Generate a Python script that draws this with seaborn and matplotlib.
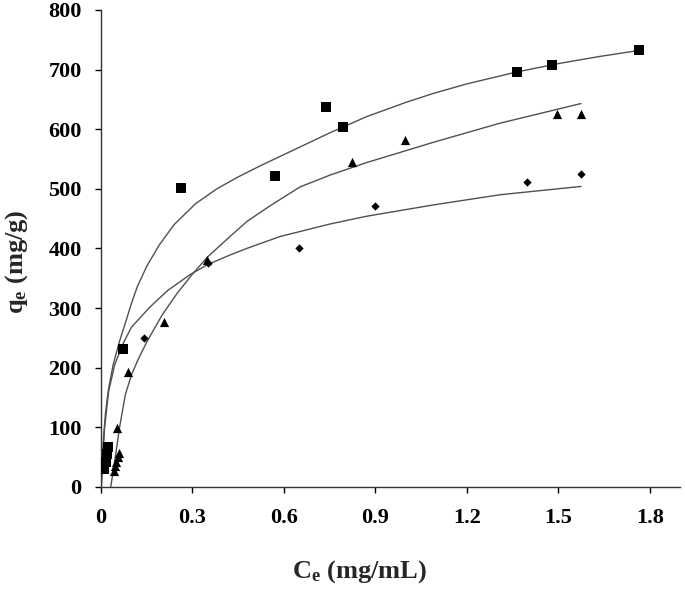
import numpy as np
import pandas as pd
import matplotlib
matplotlib.use('Agg')
import matplotlib.pyplot as plt
import seaborn as sns

sq_c = [0.010, 0.015, 0.020, 0.024, 0.072, 0.263, 0.570, 0.738, 0.792, 1.364, 1.479, 1.764]
sq_q = [30, 42, 55, 67, 232, 501, 521, 637, 603, 696, 707, 732]

tri_c = [0.044, 0.047, 0.050, 0.055, 0.060, 0.051, 0.090, 0.208, 0.347, 0.822, 0.997, 1.495, 1.574]
tri_q = [27, 35, 42, 50, 57, 99, 193, 277, 381, 545, 581, 625, 625]

dia_c = [0.003, 0.006, 0.010, 0.142, 0.350, 0.648, 0.898, 1.397, 1.574]
dia_q = [28, 34, 40, 250, 375, 400, 471, 511, 525]

# fitted curves
sq_fit_c = [0.001, 0.003, 0.008, 0.015, 0.025, 0.040, 0.060, 0.080, 0.100, 0.120,
            0.150, 0.190, 0.240, 0.310, 0.380, 0.450, 0.520, 0.590, 0.652, 0.751,
            0.871, 1.000, 1.090, 1.200, 1.364, 1.500, 1.636, 1.764]
sq_fit_q = [0, 30, 80, 125, 165, 205, 243, 275, 308, 337,
            370, 405, 440, 475, 500, 520, 538, 555, 570, 594,
            621, 645, 660, 676, 696, 710, 722, 732]

tri_fit_c = [0.032, 0.039, 0.047, 0.061, 0.080, 0.100, 0.122, 0.150, 0.200, 0.250,
             0.300, 0.350, 0.423, 0.478, 0.550, 0.652, 0.751, 0.871, 1.090, 1.308, 1.574]
tri_fit_q = [0, 23, 50, 100, 155, 188, 214, 243, 288, 325,
             357, 386, 420, 445, 470, 503, 523, 544, 578, 610, 643]

dia_fit_c = [0.001, 0.005, 0.012, 0.025, 0.045, 0.073, 0.100, 0.161, 0.220, 0.292,
             0.350, 0.423, 0.478, 0.587, 0.751, 0.871, 1.090, 1.308, 1.574]
dia_fit_q = [0, 40, 100, 160, 205, 241, 268, 302, 330, 356,
             373, 389, 400, 420, 441, 454, 473, 490, 504]

x_ticks = [0, 0.3, 0.6, 0.9, 1.2, 1.5, 1.8]
x_tick_labels = ['0', '0.3', '0.6', '0.9', '1.2', '1.5', '1.8']
y_ticks = [0, 100, 200, 300, 400, 500, 600, 700, 800]

sns.set_style('ticks')
plt.rcParams['font.family'] = ['Liberation Serif', 'DejaVu Serif']
plt.rcParams['font.weight'] = 'bold'
plt.rcParams['mathtext.fontset'] = 'custom'
plt.rcParams['mathtext.rm'] = 'Liberation Serif:bold'
plt.rcParams['mathtext.bf'] = 'Liberation Serif:bold'
plt.rcParams['mathtext.it'] = 'Liberation Serif:bold'

fig = plt.figure(figsize=(6.85, 5.89), dpi=100)
ax = fig.add_axes([0.1474, 0.1732, 0.846, 0.810])

line_col = '#505050'
for fc, fq in [(sq_fit_c, sq_fit_q), (tri_fit_c, tri_fit_q), (dia_fit_c, dia_fit_q)]:
    d = pd.DataFrame({'c': fc, 'q': fq})
    sns.lineplot(data=d, x='c', y='q', ax=ax, color=line_col, linewidth=1.0,
                 sort=False, estimator=None)

sns.scatterplot(x=sq_c, y=sq_q, ax=ax, marker='s', s=42, color='black', linewidth=0, zorder=3)
sns.scatterplot(x=tri_c, y=tri_q, ax=ax, marker='^', s=44, color='black', linewidth=0, zorder=3)
sns.scatterplot(x=dia_c, y=dia_q, ax=ax, marker='D', s=18, color='black', linewidth=0, zorder=3)

ax.set_xlim(0, 1.9)
ax.set_ylim(0, 800)
ax.set_xticks(x_ticks)
ax.set_xticklabels(x_tick_labels)
ax.set_yticks(y_ticks)
for lab in ax.get_xticklabels() + ax.get_yticklabels():
    lab.set_fontsize(16)
    lab.set_fontweight('bold')

ax.tick_params(axis='x', direction='out', length=4.5, width=1, pad=10.5, colors='black')
ax.tick_params(axis='y', direction='out', length=4.5, width=1, pad=9.5, colors='black')
for sp in ['left', 'bottom']:
    ax.spines[sp].set_linewidth(1)
    ax.spines[sp].set_color('#333333')
sns.despine(ax=ax)

ax.set_xlabel(r'C$_\mathrm{e}$ (mg/mL)', fontsize=19, fontweight='bold')
ax.set_ylabel(r'q$_\mathrm{e}$ (mg/g)', fontsize=19, fontweight='bold')
ax.xaxis.set_label_coords(0.447, -0.15)
ax.yaxis.set_label_coords(-0.122, 0.472)

fig.savefig('out.png', dpi=100)
